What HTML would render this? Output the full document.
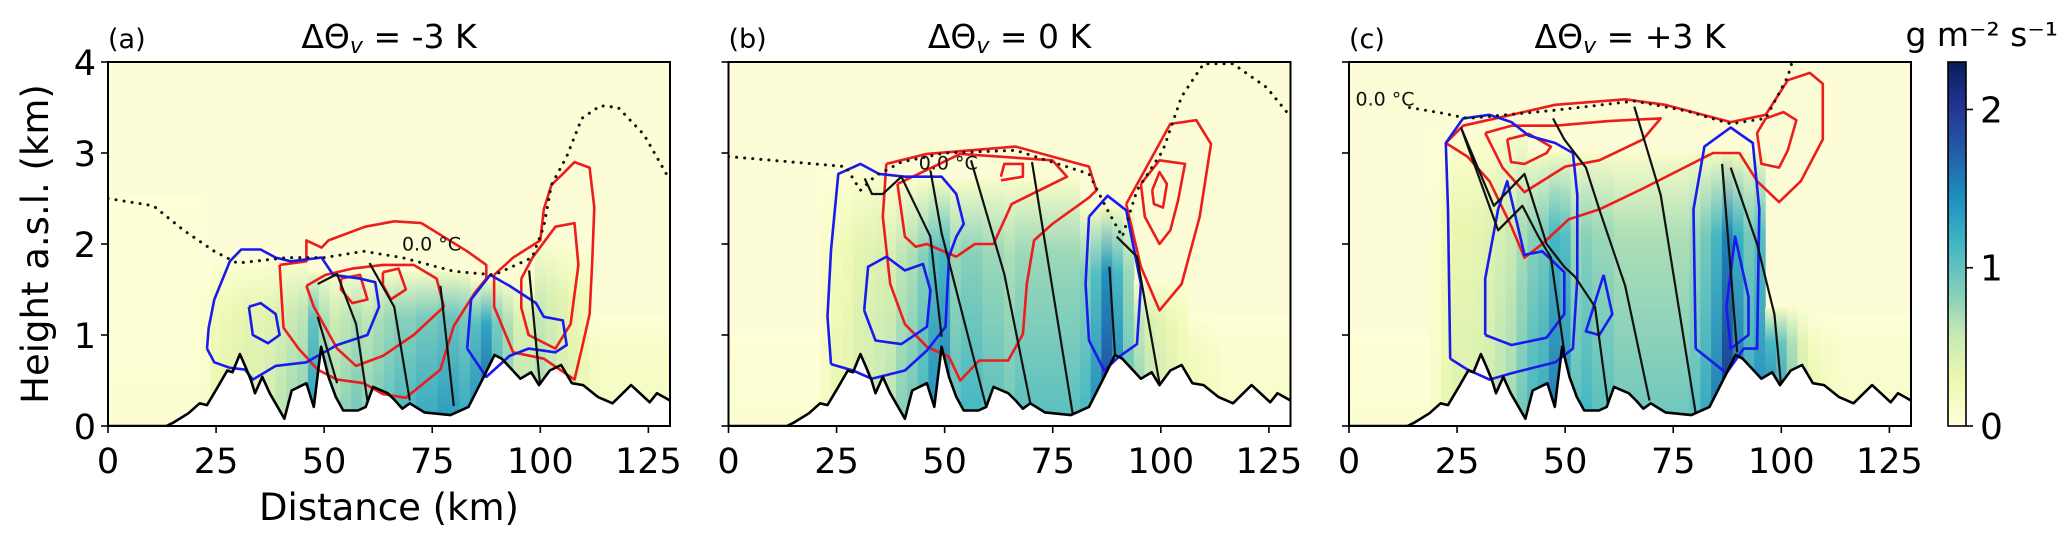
<!DOCTYPE html>
<html><head><meta charset="utf-8"><style>
html,body{margin:0;padding:0;background:#fff;}
svg{display:block;font-family:"DejaVu Sans","Liberation Sans",sans-serif;}
</style></head><body>
<svg id="fig" width="2067" height="546" viewBox="0 0 2067 546" xmlns="http://www.w3.org/2000/svg">
<defs id="defs"></defs>
</svg>
<script>
// ---------- data ----------
const terrainX = [0,13.5,15.2,18.6,21.2,22.9,25.4,27.6,28.8,30.5,31.8,33.1,34,35.7,37.4,40.8,42.5,45.9,47.6,49.3,51,52.7,54.4,57.8,59.6,61.3,64.7,66.4,68.1,69.8,73.2,79.2,83.4,86.9,89.4,91.1,95.4,97.9,99.7,102.2,104.8,107.3,109.9,113.3,116.7,121,125.3,127,130];
const terrainH = [0,0,0.04,0.14,0.25,0.23,0.43,0.61,0.59,0.79,0.65,0.5,0.36,0.54,0.36,0.08,0.39,0.47,0.21,0.87,0.54,0.32,0.17,0.17,0.21,0.43,0.36,0.28,0.19,0.25,0.15,0.12,0.21,0.54,0.78,0.74,0.52,0.59,0.45,0.61,0.67,0.47,0.45,0.32,0.25,0.45,0.26,0.36,0.28];
const fieldX = [0,2.5,5,7.5,10,12.5,15,17.5,20,22.5,25,27.5,30,32.5,35,37.5,40,42.5,45,47.5,50,52.5,55,57.5,60,62.5,65,67.5,70,72.5,75,77.5,80,82.5,85,87.5,90,92.5,95,97.5,100,102.5,105,107.5,110,112.5,115,117.5,120,122.5,125,127.5,130];
const fieldA = [0.05,0.05,0.05,0.05,0.05,0.05,0.05,0.05,0.05,0.1,0.3,0.35,0.4,0.45,0.45,0.5,0.6,0.7,0.8,1.3,0.9,0.7,0.8,0.9,0.8,0.9,1.0,1.1,1.1,1.2,1.2,1.3,1.3,1.2,1.4,1.7,1.2,0.9,0.6,0.6,0.7,0.6,0.5,0.4,0.3,0.2,0.15,0.15,0.15,0.15,0.15,0.15,0.15];
const topA = [2.5,2.5,2.5,2.5,2.5,2.5,2.5,2.5,2.5,1.8,1.8,1.8,1.8,1.8,1.8,1.8,1.8,1.8,1.8,1.7,1.7,1.7,1.7,1.7,1.7,1.7,1.7,1.7,1.7,1.7,1.7,1.7,1.7,1.7,1.6,1.6,1.6,1.6,1.6,1.6,2.0,2.0,2.0,2.0,2.0,1.2,1.2,1.2,1.2,1.2,1.2,1.2,1.2];
const fieldB = [0.05,0.05,0.05,0.05,0.05,0.05,0.05,0.05,0.05,0.15,0.3,0.35,0.45,0.5,0.55,0.6,0.8,0.9,1.1,1.4,1.5,1.0,1.1,1.1,1.0,1.0,0.9,1.0,1.0,1.0,1.0,1.0,1.0,1.1,1.4,1.9,1.5,1.0,0.8,0.6,0.5,0.4,0.3,0.25,0.2,0.15,0.1,0.1,0.1,0.1,0.1,0.1,0.1];
const topB = [1.0,1.0,1.0,1.0,1.0,1.0,1.0,1.0,1.0,2.8,2.8,2.8,2.8,2.8,2.8,2.7,2.7,2.7,2.7,2.7,2.7,2.7,2.7,2.7,2.7,2.7,2.7,2.7,2.7,2.7,2.7,2.7,2.7,2.4,2.4,2.4,2.4,2.4,1.6,1.6,1.6,1.6,1.6,1.2,1.2,1.2,1.2,1.2,1.2,1.2,1.2,1.2,1.2];
const fieldC = [0.05,0.05,0.05,0.05,0.05,0.05,0.05,0.05,0.1,0.3,0.4,0.4,0.45,0.5,0.6,0.7,0.9,1.1,1.2,1.5,1.4,1.0,1.1,1.0,1.0,0.9,0.9,0.9,0.9,0.9,0.9,0.9,1.0,1.2,1.5,2.0,1.6,1.2,1.4,1.5,1.3,0.9,0.5,0.3,0.2,0.15,0.1,0.1,0.1,0.1,0.1,0.1,0.1];
const topC = [1.0,1.0,1.0,1.0,1.0,1.0,1.0,1.0,3.2,3.2,3.2,3.2,3.2,3.2,3.2,3.2,3.2,3.0,3.0,3.0,3.0,3.0,3.0,3.0,3.0,3.0,3.0,3.0,3.0,3.0,3.0,3.0,3.0,3.0,3.0,3.0,3.0,3.0,3.0,1.3,1.3,1.3,1.3,1.2,1.2,1.2,1.2,1.2,1.2,1.2,1.2,1.2,1.2];

const redA = [
 [39.7,1.77,45.9,1.81,45.9,2.04,49.4,1.96,51,2.04,59.5,2.19,66.2,2.25,72.5,2.23,83.1,1.92,87.5,1.77,87.5,1.62,84.8,1.46,80,1.1,76.9,0.62,68.9,0.31,63.6,0.35,59.2,0.47,53,0.51,48.5,0.62,44.1,0.85,40.6,1.08,39.7,1.77],
 [45.9,1.54,50.3,1.66,56.5,1.73,63.6,1.77,70.7,1.77,76,1.62,77.7,1.31,70.7,1.0,63.6,0.77,57.4,0.66,53,0.85,47.6,1.31,45.9,1.54],
 [53.9,1.62,58.3,1.66,60,1.39,56.5,1.35,53.9,1.5,53.9,1.62],
 [63.6,1.69,67.2,1.73,68.9,1.5,65.4,1.39,63.6,1.55,63.6,1.69],
 [89.3,1.66,93.7,1.85,100,2.04,100.8,2.38,102.6,2.65,105.2,2.77,107.9,2.9,111.4,2.84,112.5,2.4,112,1.8,111.4,1.23,109.6,0.85,107.9,0.51,100.8,0.74,93.7,0.81,89.3,1.31,89.3,1.66],
 [95.6,1.62,98.2,1.85,103.5,2.19,107.9,2.23,108.8,1.77,107,1.12,103.5,0.85,97.3,1.0,95.6,1.3,95.6,1.62]
];
const blueA = [
 [22.9,0.85,23.3,1.08,24.6,1.39,28.2,1.81,30.8,1.94,35.3,1.94,38.8,1.85,42.3,1.81,49.4,1.85,52.1,1.66,58.3,1.62,61.8,1.58,62.7,1.31,60,1.0,53,0.89,45.9,0.7,38.8,0.66,33.5,0.51,31.7,0.62,28.2,0.64,24.6,0.7,22.9,0.85],
 [32.6,1.31,35.3,1.35,38.8,1.23,39.7,1.0,37,0.91,33.5,1.0,32.6,1.31],
 [83.1,0.85,84,1.39,88.4,1.66,92.9,1.54,99,1.35,100.8,1.2,105.2,1.16,106.1,0.89,103.5,0.81,97.3,0.85,92.9,0.77,87.5,0.54,83.1,0.85]
];
const blackA = [
 [48.5,1.2,53,0.47],
 [48.5,1.56,53,1.67,57.4,1.12,60,0.28],
 [60.5,1.79,66.2,1.31,69.8,0.28],
 [76.9,1.54,80,0.22],
 [97.4,1.71,99.9,0.47]
];
const dotA = [0,2.5,10.5,2.42,17.5,2.15,24.6,1.92,29.9,1.79,41.5,1.85,50,1.85,59.2,1.92,68,1.85,80,1.7,89.3,1.66,98.1,1.85,100.8,2.19,102.6,2.65,106.1,2.96,109.6,3.38,113.9,3.52,118,3.5,124,3.2,130,2.7];

const redB = [
 [36.5,2.88,45.9,2.99,66.4,3.07,83.4,2.85,85.1,2.59,83.4,2.51,74.9,2.22,70.7,2.04,69,1.56,68.1,1.01,64.7,0.72,58,0.72,53.6,0.5,51,0.76,45.9,0.87,40.8,1.12,37.4,1.56,35.7,2.3,36.5,2.88],
 [39.1,2.66,40.8,2.08,43.3,1.97,45.9,2.0,49.3,1.93,52.7,1.86,57,2.0,61.3,2.0,65.5,2.44,78.3,2.74,74.9,2.92,53.6,2.99,39.1,2.66],
 [63,2.74,63.8,2.88,68.1,2.88,68.1,2.74,63,2.7],
 [92,2.44,102.2,3.32,108.2,3.36,111.6,3.1,109,2.3,104.8,1.56,99.7,1.27,95.4,1.75,92,2.44],
 [95.4,2.66,99.7,2.92,105.6,2.88,104,2.48,102.2,2.15,99.7,2.0,96.3,2.3,95.4,2.66],
 [98,2.59,99.7,2.79,101.4,2.66,100.5,2.4,98.4,2.44,98,2.59]
];
const blueB = [
 [23.7,0.68,22.9,1.2,23.7,1.93,25.4,2.77,30.5,2.88,34.8,2.77,40.8,2.74,49.3,2.74,52.7,2.55,54.4,2.22,52.7,2.08,51,1.86,50.2,1.09,45.9,0.83,40.8,0.61,33.1,0.52,28.8,0.61,23.7,0.68],
 [31.4,1.27,32.3,1.75,36.5,1.86,40.8,1.71,45,1.78,46.7,1.49,45.9,1.09,40,0.9,34,0.94,31.4,1.27],
 [83.4,2.3,87.7,2.53,92,2.37,95.4,1.56,94.5,0.9,90.3,0.76,86.9,0.61,83.4,0.94,82.6,1.56,83.4,2.3]
];
const blackB = [
 [31.5,2.72,33.2,2.55,35.7,2.55,40,2.74,46.7,2.08,49.3,0.98],
 [46.7,2.81,49.3,2.12,59.6,0.21],
 [56.1,2.92,63.8,1.67,69.8,0.25],
 [70.2,2.9,79.6,0.14],
 [88.1,1.75,89.4,0.79],
 [89.8,2.08,94.5,1.86,99.7,0.47]
];
const dotB = [0,2.96,27.1,2.85,30.5,2.59,34,2.75,40,2.9,50,3.0,66.4,3.03,83.4,2.77,87.7,2.37,91.1,2.08,94.5,2.59,100.5,3.03,104.8,3.62,109.9,3.98,116.7,3.98,124.5,3.72,130,3.4];

const redC = [
 [22.4,3.11,26.4,3.3,37.6,3.42,47.7,3.53,63.9,3.59,73.1,3.53,88.3,3.34,96.4,3.42,101.5,3.8,106.6,3.88,109.6,3.76,109.6,3.15,104.5,2.69,99.5,2.46,94.4,2.69,90.3,3.0,84.2,3.0,68,2.61,57.9,2.38,50.8,2.27,44.7,2.0,40.6,1.85,37.6,2.19,32.5,2.69,27.4,2.96,22.4,3.11],
 [31.5,3.22,37.6,3.3,47.7,3.3,60,3.35,72.1,3.38,68,3.15,57.9,2.92,50,2.85,40.6,2.57,35.5,2.84,31.5,3.22],
 [36.6,3.15,41.6,3.21,46.7,3.07,45.7,3.0,40.6,2.88,37.5,2.9,36.6,3.15],
 [96.4,3.38,100.5,3.45,103.5,3.36,101.5,3.03,99.5,2.84,95.4,2.88,94.4,3.22,96.4,3.38]
];
const blueC = [
 [23.4,0.74,22.9,2.38,22.4,3.11,26.4,3.38,32.5,3.42,37.6,3.34,41.6,3.19,47.7,3.11,51.8,3.0,52.8,2.54,52.8,1.62,51.8,0.85,47.7,0.7,37.6,0.58,32.5,0.51,27.4,0.62,23.4,0.74],
 [31.5,1.0,31.5,1.62,34.5,2.38,36.6,2.69,40.6,1.88,44.7,1.92,49.8,1.69,49.8,1.23,45.7,0.97,37.6,0.89,31.5,1.0],
 [58.9,1.66,60.9,1.23,57.9,1.0,54.8,1.04,58.9,1.66],
 [80.2,0.85,79.7,2.38,82.2,3.07,88.3,3.28,93.4,3.11,94.9,2.38,94.4,0.85,91.3,0.85,87.3,0.58,80.2,0.85],
 [87.3,1.31,89.3,2.08,92.4,1.42,92.4,1.0,88.3,0.85,87.3,1.31]
];
const blackC = [
 [25.9,3.28,33.5,2.42,40.6,2.77,45.7,2.0,49.8,1.75,52.3,1.64,56.9,1.31,59.9,0.24],
 [25.9,3.28,34.5,2.15,40.1,2.42,43.6,2.1,46.7,1.85,49.8,0.81],
 [47.2,3.38,49.8,3.15,54.8,2.84,57.9,2.38,63.9,1.54,69.5,0.28],
 [66,3.51,72.1,2.54,80.2,0.14],
 [86.3,2.88,89.8,0.81],
 [88.3,2.84,94.4,2.0,98.4,1.23,99.9,0.47]
];
const dotC = [14,3.5,21.4,3.44,27.4,3.38,47.7,3.47,66,3.57,78.2,3.46,88.3,3.32,96.4,3.38,101.5,3.84,102.5,4.0];

const xTicks = [0,25,50,75,100,125];
const yTicks = [0,1,2,3,4];
const cbTicks = [0,1,2];
const cbMax = 2.3;

// ---------- helpers ----------
const NS = 'http://www.w3.org/2000/svg';
const svg = document.getElementById('fig');
const defs = document.getElementById('defs');
function mk(tag, attrs, parent){ const e=document.createElementNS(NS,tag); for(const k in attrs) e.setAttribute(k,attrs[k]); (parent||svg).appendChild(e); return e; }
const stops=[[0,[255,255,217]],[0.125,[237,248,177]],[0.25,[199,233,180]],[0.375,[127,205,187]],[0.5,[65,182,196]],[0.625,[29,145,192]],[0.75,[34,94,168]],[0.875,[37,52,148]],[1,[8,29,88]]];
function cmap(v){ let t=Math.max(0,Math.min(1,v/cbMax)); for(let i=1;i<stops.length;i++){ if(t<=stops[i][0]){ const a=stops[i-1],b=stops[i]; const f=(t-a[0])/(b[0]-a[0]); const c=a[1].map((x,j)=>Math.round(x+(b[1][j]-x)*f)); return 'rgb('+c.join(',')+')'; } } return 'rgb(8,29,88)'; }

const PL = [108, 728.5, 1349];
const W = 562, TOP = 62, BOT = 426;
function xs(p){ const l=PL[p]; return km => l + km*W/130; }
const Y = h => BOT - h*(BOT-TOP)/4;

function pts(arr, X){ const o=[]; for(let i=0;i<arr.length;i+=2) o.push(X(arr[i]).toFixed(1)+','+Y(arr[i+1]).toFixed(1)); return o.join(' '); }

const panels = [
 {field:fieldA, top:topA, red:redA, blue:blueA, black:blackA, dot:dotA, lab:'(a)', title:' = -3 K', iso:[68,1.93]},
 {field:fieldB, top:topB, red:redB, blue:blueB, black:blackB, dot:dotB, lab:'(b)', title:' = 0 K', iso:[44,2.82]},
 {field:fieldC, top:topC, red:redC, blue:blueC, black:blackC, dot:dotC, lab:'(c)', title:' = +3 K', iso:[1.5,3.52]}
];

panels.forEach((P,p)=>{
  const X = xs(p);
  const g = mk('g',{});
  
  
  const cid='clip'+p;
  const cp = mk('clipPath',{id:cid},defs);
  mk('rect',{x:PL[p],y:TOP,width:W,height:BOT-TOP},cp);
  const bg = mk('rect',{x:PL[p],y:TOP,width:W,height:BOT-TOP,fill:'#fcfdd6'},g);
  
  
  const inner = mk('g',{'clip-path':'url(#'+cid+')'},g);
  const step = fieldX[1]-fieldX[0];
  fieldX.forEach((xv,i)=>{
    const v = P.field[i];
    const gid='gr'+p+'_'+i;
    const lg = mk('linearGradient',{id:gid,x1:0,y1:0,x2:0,y2:1},defs);
    mk('stop',{offset:'0','stop-color':cmap(v*0.12)},lg);
    mk('stop',{offset:'0.3','stop-color':cmap(v*0.75)},lg);
    mk('stop',{offset:'1','stop-color':cmap(v*1.05)},lg);
    const x0=X(xv-step/2), x1=X(xv+step/2);
    const r = mk('rect',{x:x0.toFixed(1),y:Y(P.top[i]).toFixed(1),width:(x1-x0+0.6).toFixed(1),height:(BOT-Y(P.top[i])).toFixed(1),fill:'url(#'+gid+')'},inner);
    
    
  });
  const tp=[]; terrainX.forEach((x,i)=>tp.push(X(x).toFixed(1)+','+Y(terrainH[i]).toFixed(1)));
  const ground = mk('polygon',{points:X(0)+','+BOT+' '+tp.join(' ')+' '+X(130)+','+BOT,fill:'#ffffff'},inner);
  
  
  P.red.forEach(c=>{ const e=mk('polyline',{points:pts(c,X),fill:'none',stroke:'#ee1c1c','stroke-width':2.6,'stroke-linejoin':'round'},inner);
    
     });
  P.blue.forEach(c=>{ const e=mk('polyline',{points:pts(c,X),fill:'none',stroke:'#1a1aee','stroke-width':2.6,'stroke-linejoin':'round'},inner);
    
     });
  P.black.forEach(c=>{ const e=mk('polyline',{points:pts(c,X),fill:'none',stroke:'#111','stroke-width':2.2,'stroke-linejoin':'round'},inner);
    
     });
  const d = mk('polyline',{points:pts(P.dot,X),fill:'none',stroke:'#111','stroke-width':3,'stroke-dasharray':'0.1 8','stroke-linecap':'round'},inner);
  
  
  const tl = mk('polyline',{points:tp.join(' '),fill:'none',stroke:'#000','stroke-width':2.6,'stroke-linejoin':'round'},inner);
  
  
  const iso = mk('text',{x:X(P.iso[0]),y:Y(P.iso[1]),'font-size':19,fill:'#111'},g);
  iso.textContent='0.0 °C';
  
  
  const fr = mk('rect',{x:PL[p],y:TOP,width:W,height:BOT-TOP,fill:'none',stroke:'#000','stroke-width':2},g);
  
  
  xTicks.forEach(t=>{
    const tk = mk('line',{x1:X(t),x2:X(t),y1:BOT,y2:BOT+7,stroke:'#000','stroke-width':1.6},g);
    
    
    const tt = mk('text',{x:X(t),y:BOT+47,'font-size':35,'text-anchor':'middle',fill:'#000'},g);
    tt.textContent=t;
    
    
  });
  yTicks.forEach(t=>{
    const tk = mk('line',{x1:PL[p]-7,x2:PL[p],y1:Y(t),y2:Y(t),stroke:'#000','stroke-width':1.6},g);
    
    
    if(p===0){ const tt = mk('text',{x:PL[p]-12,y:Y(t)+13,'font-size':35,'text-anchor':'end',fill:'#000'},g);
      tt.textContent=t;
      
       }
  });
  const lb = mk('text',{x:PL[p],y:48,'font-size':27,fill:'#000'},g);
  lb.textContent=P.lab;
  
  
  const ti = mk('text',{x:PL[p]+W/2,y:48,'font-size':33,'text-anchor':'middle',fill:'#000','xml:space':'preserve'},g);
  
  
  ti.innerHTML='ΔΘ<tspan font-size="22" font-style="italic" dy="5">v</tspan><tspan dy="-5">'+P.title.replace(/ /g,'\u00a0')+'</tspan>';
});

const yl = mk('text',{x:0,y:0,'font-size':37,'text-anchor':'middle',fill:'#000',transform:'translate(48,244) rotate(-90)'});
yl.textContent='Height a.s.l. (km)';


const xl = mk('text',{x:389,y:520,'font-size':37,'text-anchor':'middle',fill:'#000'});
xl.textContent='Distance (km)';



const CBX=1948, CBW=18;
const cg = mk('linearGradient',{id:'cbg',x1:0,y1:1,x2:0,y2:0},defs);
stops.forEach(s=>mk('stop',{offset:s[0],'stop-color':'rgb('+s[1].join(',')+')'},cg));
const cb = mk('rect',{x:CBX,y:TOP,width:CBW,height:BOT-TOP,fill:'url(#cbg)',stroke:'#000','stroke-width':1.6});


const CY = v => BOT - v/cbMax*(BOT-TOP);
cbTicks.forEach(t=>{
  const tk = mk('line',{x1:CBX+CBW,x2:CBX+CBW+7,y1:CY(t),y2:CY(t),stroke:'#000','stroke-width':1.6});
  
  
  const tt = mk('text',{x:CBX+CBW+14,y:CY(t)+13,'font-size':36,fill:'#000'});
  tt.textContent=t;
  
  
});
const cu = mk('text',{x:2058,y:46,'font-size':33,'text-anchor':'end',fill:'#000'});
cu.textContent='g m⁻² s⁻¹';


</script>
</body></html>
